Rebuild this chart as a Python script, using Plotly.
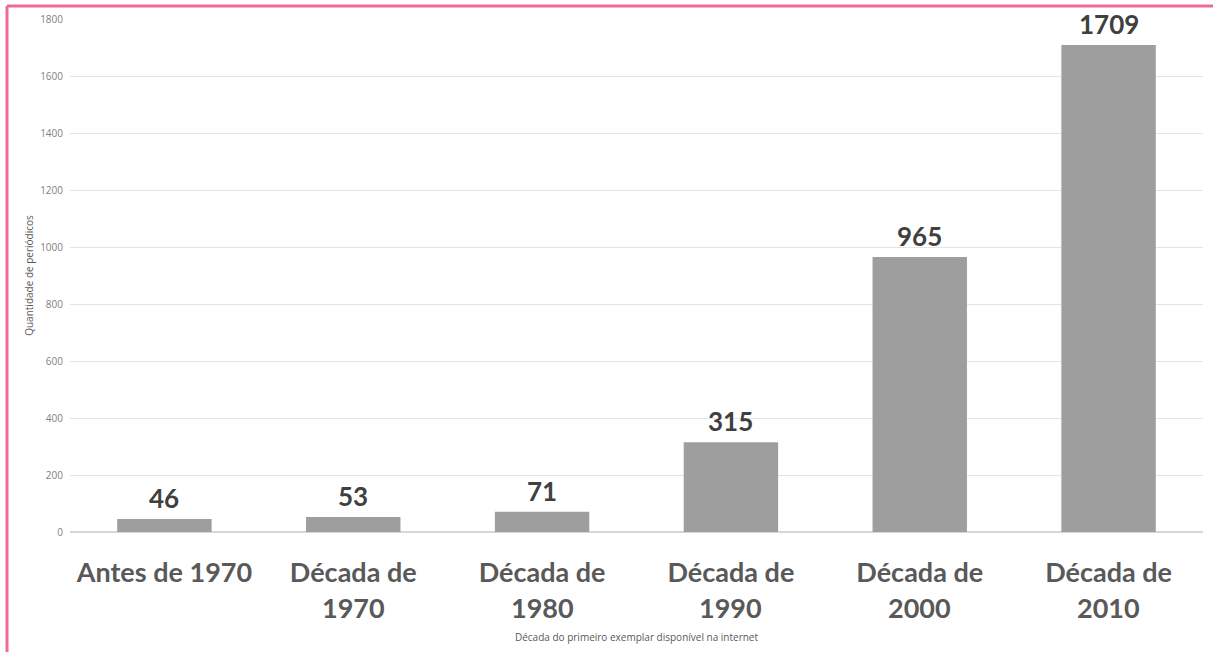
import plotly.graph_objects as go

categories = ["c0", "c1", "c2", "c3", "c4", "c5"]
label_line1 = ["Antes de 1970", "Década de", "Década de", "Década de", "Década de", "Década de"]
label_line2 = ["", "1970", "1980", "1990", "2000", "2010"]
values = [46, 53, 71, 315, 965, 1709]
y_ticks = [0, 200, 400, 600, 800, 1000, 1200, 1400, 1600, 1800]

CAT_FONT = dict(family="Lato, Open Sans, sans-serif", size=27, color="#595959", weight="bold")

fig = go.Figure(go.Bar(
    x=categories, y=values,
    marker=dict(color="#9e9e9e", line=dict(width=0)),
    hoverinfo="skip",
))

annotations = []
for c, v in zip(categories, values):
    annotations.append(dict(
        x=c, y=v, xref="x", yref="y", text=str(v), showarrow=False,
        yanchor="bottom", yshift=3,
        font=dict(family="Lato, Open Sans, sans-serif", size=26, color="#404040", weight="bold"),
    ))
for c, l2 in zip(categories, label_line2):
    if l2:
        annotations.append(dict(
            x=c, y=0, xref="x", yref="paper", text=l2, showarrow=False,
            yanchor="middle", yshift=-75, font=CAT_FONT,
        ))

fig.update_layout(
    width=1213, height=652,
    margin=dict(l=70, r=10, t=19, b=120, autoexpand=False),
    paper_bgcolor="white", plot_bgcolor="white",
    bargap=0.5, showlegend=False,
    xaxis=dict(
        tickvals=categories, ticktext=label_line1,
        tickfont=CAT_FONT, automargin=False,
        ticks="", showgrid=False, ticklabelstandoff=22,
        title=dict(text="Década do primeiro exemplar disponível na internet",
                   font=dict(family="Open Sans, sans-serif", size=10, color="#595959"),
                   standoff=46),
    ),
    yaxis=dict(
        range=[0, 1800], tickvals=y_ticks, automargin=False,
        tickfont=dict(family="Open Sans, sans-serif", size=10, color="#7f7f7f"),
        gridcolor="#e4e4e4", gridwidth=1, zeroline=True, zerolinecolor="#d6d6d6",
        ticks="", ticklabelstandoff=6,
        title=dict(text="Quantidade de periódicos",
                   font=dict(family="Open Sans, sans-serif", size=10, color="#595959"),
                   standoff=4),
    ),
    annotations=annotations,
    shapes=[
        dict(type="line", xref="paper", yref="paper", x0=-0.0556, x1=1.1, y0=1.0253, y1=1.0253,
             line=dict(color="#f06a96", width=3)),
        dict(type="line", xref="paper", yref="paper", x0=-0.0556, x1=-0.0556, y0=1.0253, y1=-0.3,
             line=dict(color="#f06a96", width=3)),
    ],
)

fig.write_html("out.html", config={"displayModeBar": False},
               post_script="document.body.style.margin='0';")
